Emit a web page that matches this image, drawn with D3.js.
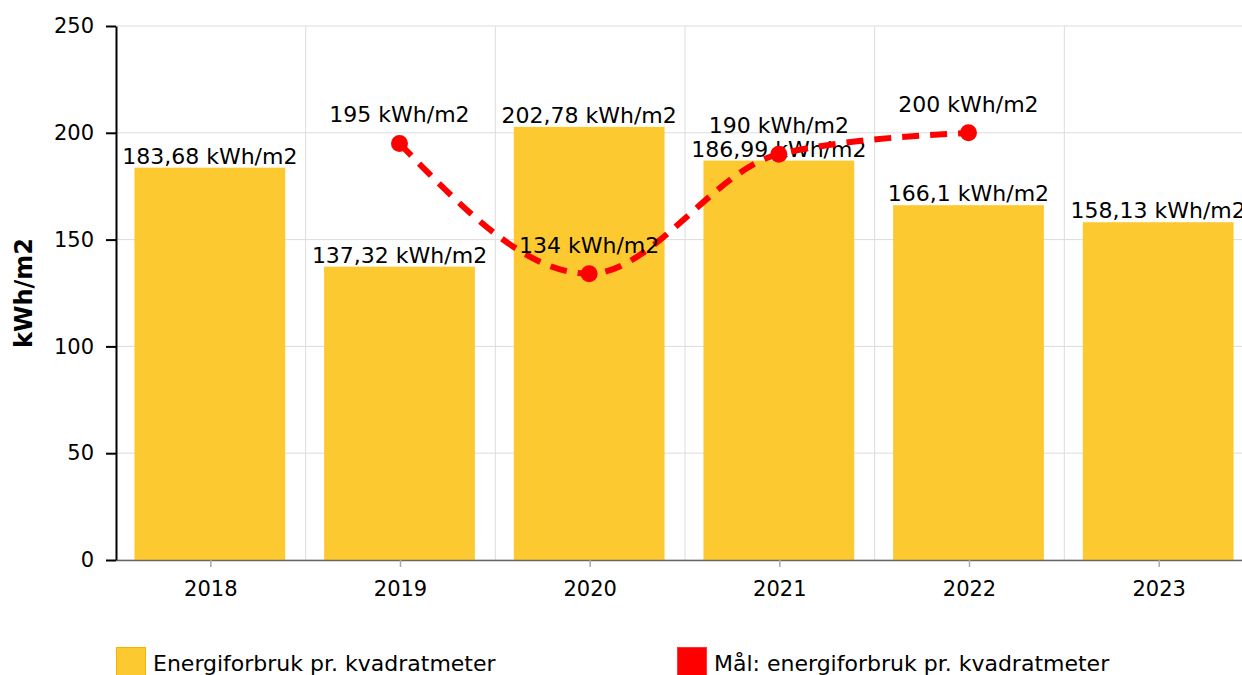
<!DOCTYPE html>
<html lang="no">
<head>
<meta charset="utf-8">
<title>Energiforbruk</title>
<script src="https://cdn.jsdelivr.net/npm/d3@7"></script>
<style>
    body { margin: 0; background: #fff; }
    svg { display: block; font-family: "DejaVu Sans", Verdana, sans-serif; }
    .grid line { stroke: #dcdcdc; stroke-width: 1; }
</style>
</head>
<body>
<svg></svg>
<script>
    var years = ['2018', '2019', '2020', '2021', '2022', '2023'];
    var forbruk = [183.68, 137.32, 202.78, 186.99, 166.1, 158.13];
    var malYears = ['2019', '2020', '2021', '2022'];
    var mal = [195, 134, 190, 200];
    var yTicks = [0, 50, 100, 150, 200, 250];
    var legendNames = ['Energiforbruk pr. kvadratmeter', 'Mål: energiforbruk pr. kvadratmeter'];

    var width = 1242, height = 675;
    var margin = {top: 26, left: 116, bottom: 115};
    var plotW = 1138, plotH = height - margin.top - margin.bottom;

    var fmt = function (v) { return String(v).replace('.', ',') + ' kWh/m2'; };

    var svg = d3.select('svg').attr('width', width).attr('height', height);
    var g = svg.append('g').attr('transform', 'translate(' + margin.left + ',' + margin.top + ')');

    var x = d3.scaleBand().domain(years).range([0, plotW]).padding(0);
    var y = d3.scaleLinear().domain([0, 250]).range([plotH, 0]);
    var barW = x.bandwidth() * 0.795;

    // grid
    var grid = g.append('g').attr('class', 'grid');
    grid.selectAll('.h').data(yTicks).enter().append('line')
        .attr('x1', 0).attr('x2', plotW)
        .attr('y1', function (d) { return y(d); }).attr('y2', function (d) { return y(d); });
    grid.selectAll('.v').data(years.slice(1).concat(['end'])).enter().append('line')
        .attr('x1', function (d, i) { return x.bandwidth() * (i + 1); })
        .attr('x2', function (d, i) { return x.bandwidth() * (i + 1); })
        .attr('y1', 0).attr('y2', plotH);

    // bars
    g.selectAll('.bar').data(forbruk).enter().append('rect')
        .attr('x', function (d, i) { return x(years[i]) + (x.bandwidth() - barW) / 2 - 1; })
        .attr('y', function (d) { return y(d); })
        .attr('width', barW)
        .attr('height', function (d) { return plotH - y(d); })
        .attr('fill', '#fcc931');

    // x axis
    var xAxis = g.append('g').attr('transform', 'translate(0,' + plotH + ')')
        .call(d3.axisBottom(x).tickSize(7).tickSizeOuter(0).tickPadding(14));
    xAxis.select('.domain').attr('stroke', '#666').attr('stroke-width', 1.5);
    xAxis.selectAll('.tick line').attr('stroke', '#aaa').attr('stroke-width', 1.5);
    xAxis.selectAll('text').attr('font-size', 21).attr('fill', '#000').attr('font-family', 'DejaVu Sans');

    // y axis
    var yAxis = g.append('g')
        .call(d3.axisLeft(y).tickValues(yTicks).tickSize(10).tickSizeOuter(0).tickPadding(12));
    yAxis.select('.domain').attr('stroke', '#000').attr('stroke-width', 2);
    yAxis.selectAll('.tick line').attr('stroke', '#000').attr('stroke-width', 2);
    yAxis.selectAll('text').attr('font-size', 21).attr('fill', '#000').attr('font-family', 'DejaVu Sans');

    svg.append('text')
        .attr('transform', 'translate(32,' + (margin.top + plotH / 2) + ') rotate(-90)')
        .attr('text-anchor', 'middle')
        .attr('font-size', 24).attr('font-weight', 'bold')
        .text('kWh/m2');

    // bar labels
    g.selectAll('.blabel').data(forbruk).enter().append('text')
        .attr('x', function (d, i) { return x(years[i]) + x.bandwidth() / 2 - 1; })
        .attr('y', function (d) { return y(d) - 4; })
        .attr('text-anchor', 'middle')
        .attr('font-size', 22)
        .text(fmt);

    // target line
    var cx = function (d, i) { return x(malYears[i]) + x.bandwidth() / 2 - 1; };
    var line = d3.line().x(cx).y(function (d) { return y(d); }).curve(d3.curveMonotoneX);
    g.append('path').datum(mal)
        .attr('d', line)
        .attr('fill', 'none')
        .attr('stroke', '#ff0000')
        .attr('stroke-width', 6)
        .attr('stroke-dasharray', '17 11');
    g.selectAll('.pt').data(mal).enter().append('circle')
        .attr('cx', cx).attr('cy', function (d) { return y(d); })
        .attr('r', 8.5).attr('fill', '#ff0000');
    g.selectAll('.plabel').data(mal).enter().append('text')
        .attr('x', cx)
        .attr('y', function (d) { return y(d) - 21; })
        .attr('text-anchor', 'middle')
        .attr('font-size', 22)
        .text(fmt);

    // legend
    var legend = svg.append('g').attr('transform', 'translate(0,647)');
    var lx = [116, 677], lc = ['#fcc931', '#ff0000'], ls = ['#f5b400', '#ff3333'];
    legendNames.forEach(function (name, i) {
        legend.append('rect').attr('x', lx[i] + 0.5).attr('y', 0.5)
            .attr('width', 29).attr('height', 29)
            .attr('fill', lc[i]).attr('stroke', ls[i]);
        legend.append('text').attr('x', lx[i] + 37).attr('y', 24)
            .attr('font-size', 22).text(name);
    });
</script>
</body>
</html>
